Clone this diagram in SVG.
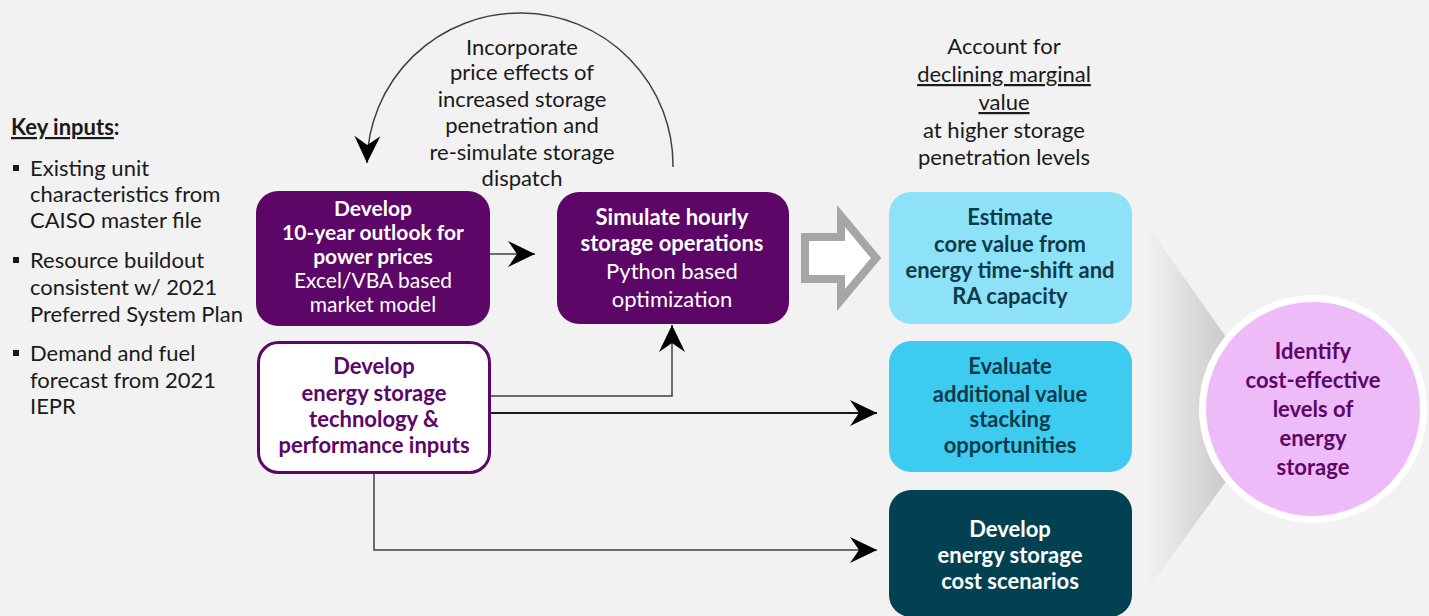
<svg xmlns="http://www.w3.org/2000/svg" width="1429" height="616" viewBox="0 0 1429 616">
  <defs>
    <style>
      text { font-family: Lato, "Liberation Sans", sans-serif; font-size: 22px; }
      .c { text-anchor: middle; }
      .b { font-weight: bold; }
      .sm { font-size: 21px; }
      .dark { fill: #1a1a1a; }
      .white { fill: #ffffff; }
      .purple { fill: #5c0668; }
      .teal { fill: #0d3b4c; }
      .line { fill: none; stroke: #404040; stroke-width: 1.5; }
      .line2 { fill: none; stroke: #1a1a1a; stroke-width: 2; }
    </style>
    <marker id="stealth" markerUnits="userSpaceOnUse" markerWidth="30" markerHeight="30" viewBox="-28 -15 30 30" refX="0" refY="0" orient="auto">
      <path d="M0,0 L-27,-13 L-18,0 L-27,13 Z" fill="#000"/>
    </marker>
    <linearGradient id="funnel" x1="0" y1="0" x2="1" y2="0">
      <stop offset="0" stop-color="#f2f2f2"/>
      <stop offset="1" stop-color="#b8b8b8"/>
    </linearGradient>
  </defs>

  <rect width="1429" height="616" fill="#f2f2f2"/>

  <!-- key inputs list -->
  <g id="key-inputs" class="dark">
    <text x="11" y="135" class="b"><tspan text-decoration="underline">Key inputs</tspan>:</text>
    <rect x="13" y="165" width="6" height="6" fill="#1a1a1a"/>
    <text x="30" y="176">Existing unit</text>
    <text x="30" y="202">characteristics from</text>
    <text x="30" y="228">CAISO master file</text>
    <rect x="13" y="257" width="6" height="6" fill="#1a1a1a"/>
    <text x="30" y="268">Resource buildout</text>
    <text x="30" y="295">consistent w/ 2021</text>
    <text x="30" y="322">Preferred System Plan</text>
    <rect x="13" y="350" width="6" height="6" fill="#1a1a1a"/>
    <text x="30" y="361">Demand and fuel</text>
    <text x="30" y="388">forecast from 2021</text>
    <text x="30" y="414">IEPR</text>
  </g>

  <!-- feedback loop note -->
  <g id="loop-note" class="dark">
    <text x="522" y="55" class="c">Incorporate</text>
    <text x="522" y="80" class="c">price effects of</text>
    <text x="522" y="107" class="c">increased storage</text>
    <text x="522" y="133" class="c">penetration and</text>
    <text x="522" y="160" class="c">re-simulate storage</text>
    <text x="522" y="186" class="c">dispatch</text>
  </g>

  <!-- marginal value note -->
  <g id="marginal-note" class="dark">
    <text x="1004" y="54" class="c">Account for</text>
    <text x="1004" y="82" class="c" text-decoration="underline">declining marginal</text>
    <text x="1004" y="110" class="c" text-decoration="underline">value</text>
    <text x="1004" y="138" class="c">at higher storage</text>
    <text x="1004" y="165" class="c">penetration levels</text>
  </g>

  <!-- funnel shading behind the result circle -->
  <polygon points="1147,225 1262,388 1262,432 1147,590" fill="url(#funnel)"/>

  <!-- connectors -->
  <g id="connectors">
    <path class="line" d="M490,254 H535" marker-end="url(#stealth)"/>
    <path class="line" d="M491,396 H672 V325" marker-end="url(#stealth)"/>
    <path class="line2" d="M491,413 H877" marker-end="url(#stealth)"/>
    <path class="line" d="M374,473 V550 H877" marker-end="url(#stealth)"/>
    <path class="line" d="M673,167 A153,152 0 0 0 367,163" marker-end="url(#stealth)"/>
    <polygon points="805,237 841,237 841,216 876,258 841,300 841,279 805,279" fill="#ffffff" stroke="#a6a6a6" stroke-width="8" stroke-linejoin="miter"/>
  </g>

  <g id="price-outlook">
    <rect x="256" y="191" width="234" height="135" rx="22" fill="#5c0668"/>
    <text x="373" y="216" class="c b sm white">Develop</text>
    <text x="373" y="240" class="c b sm white">10-year outlook for</text>
    <text x="373" y="264" class="c b sm white">power prices</text>
    <text x="373" y="288" class="c sm white">Excel/VBA based</text>
    <text x="373" y="312" class="c sm white">market model</text>
  </g>

  <g id="simulate-ops">
    <rect x="557" y="192" width="232" height="132" rx="22" fill="#5c0668"/>
    <text x="672" y="225" class="c b white">Simulate hourly</text>
    <text x="672" y="251" class="c b white">storage operations</text>
    <text x="672" y="279" class="c white">Python based</text>
    <text x="672" y="307" class="c white">optimization</text>
  </g>

  <g id="storage-inputs">
    <rect x="258.5" y="342.5" width="231" height="130" rx="20" fill="#ffffff" stroke="#5c0668" stroke-width="3"/>
    <text x="374" y="374" class="c b purple">Develop</text>
    <text x="374" y="401" class="c b purple">energy storage</text>
    <text x="374" y="427" class="c b purple">technology &amp;</text>
    <text x="374" y="453" class="c b purple">performance inputs</text>
  </g>

  <g id="core-value">
    <rect x="889" y="192" width="243" height="132" rx="22" fill="#8ee2f7"/>
    <text x="1010" y="225" class="c b teal">Estimate</text>
    <text x="1010" y="252" class="c b teal">core value from</text>
    <text x="1010" y="278" class="c b teal">energy time-shift and</text>
    <text x="1010" y="304" class="c b teal">RA capacity</text>
  </g>

  <g id="value-stacking">
    <rect x="889" y="341" width="243" height="131" rx="22" fill="#3dcbf0"/>
    <text x="1010" y="374" class="c b teal">Evaluate</text>
    <text x="1010" y="402" class="c b teal">additional value</text>
    <text x="1010" y="427" class="c b teal">stacking</text>
    <text x="1010" y="453" class="c b teal">opportunities</text>
  </g>

  <g id="cost-scenarios">
    <rect x="889" y="490" width="243" height="127" rx="22" fill="#024152"/>
    <text x="1010" y="537" class="c b white">Develop</text>
    <text x="1010" y="563" class="c b white">energy storage</text>
    <text x="1010" y="589" class="c b white">cost scenarios</text>
  </g>

  <g id="cost-effective-levels">
    <circle cx="1313" cy="409" r="114" fill="#ffffff"/>
    <circle cx="1313" cy="409" r="107" fill="#edbbf8"/>
    <text x="1313" y="359" class="c b purple">Identify</text>
    <text x="1313" y="388" class="c b purple">cost-effective</text>
    <text x="1313" y="417" class="c b purple">levels of</text>
    <text x="1313" y="446" class="c b purple">energy</text>
    <text x="1313" y="475" class="c b purple">storage</text>
  </g>
</svg>
